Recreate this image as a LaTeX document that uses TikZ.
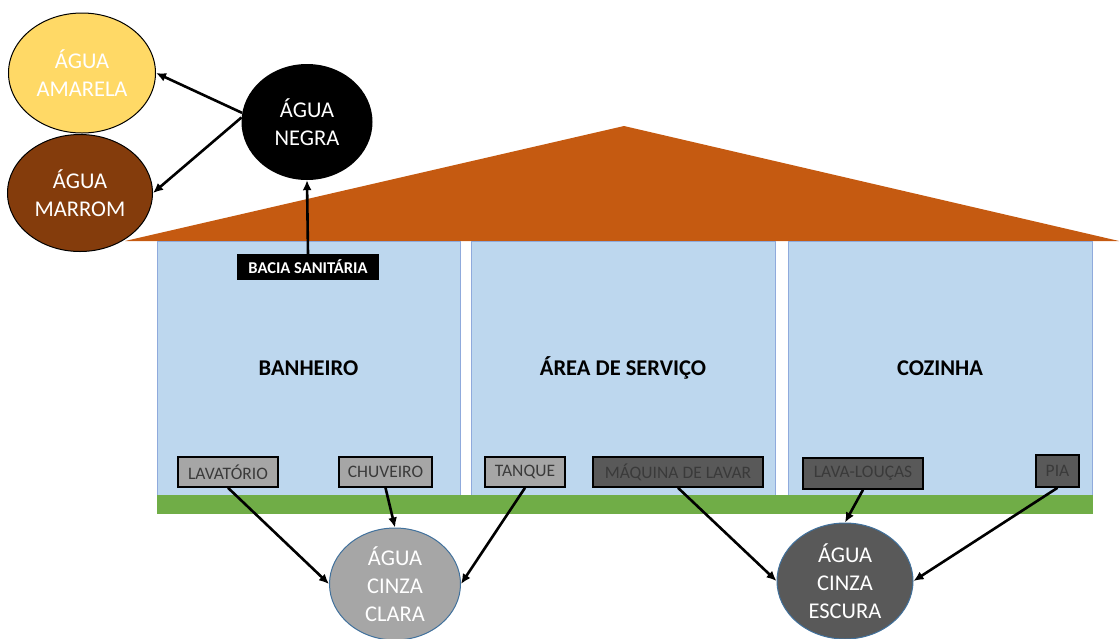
\documentclass[tikz,border=0pt]{standalone}
\usepackage{fontspec}
\setmainfont{Carlito}
\usepackage{tikz}
\usetikzlibrary{arrows.meta, positioning, shapes.geometric}
\definecolor{roofOrange}{HTML}{C55A11}
\definecolor{roomBlue}{HTML}{BDD7EE}
\definecolor{roomLine}{HTML}{8FAADC}
\definecolor{groundGreen}{HTML}{70AD47}
\definecolor{aguaAmarela}{HTML}{FFD966}
\definecolor{aguaMarrom}{HTML}{843C0C}
\definecolor{cinzaClara}{HTML}{A6A6A6}
\definecolor{cinzaEscura}{HTML}{595959}
\definecolor{cinzaLine}{HTML}{41719C}
\definecolor{boxText}{HTML}{3A3A3A}

\begin{document}
\begin{tikzpicture}[x=1pt, y=-1pt,
    room/.style={fill=roomBlue, draw=roomLine, line width=1pt, minimum width=303pt, minimum height=254pt,
      inner sep=0pt, font=\fontsize{22.5}{27}\selectfont\bfseries},
    fixture/.style={draw=black, line width=1.6pt, minimum height=30pt, inner sep=0pt,
      text=boxText, font=\fontsize{17.5}{21}\selectfont},
    agua/.style={ellipse, inner sep=0pt, align=center, text=white, font=\fontsize{22.5}{28}\selectfont},
    flow/.style={-{Latex[length=10pt,width=9pt]}, line width=2.6pt}]
    \useasboundingbox (0,0) rectangle (1119,638);

    % casa
    \fill[roofOrange] (125,241) -- (624,126) -- (1119,241) -- cycle;
    \node[room] (banheiro) at (308.5,368) {BANHEIRO};
    \node[room, minimum width=304pt] (servico) at (623,368) {ÁREA DE SERVIÇO};
    \node[room, minimum width=304pt] (cozinha) at (940,368) {COZINHA};
    \fill[groundGreen] (157,495) rectangle (1093,514);

    % pontos de consumo
    \node[fill=black, text=white, minimum width=142pt, minimum height=26pt, inner sep=0pt,
      font=\fontsize{16.5}{19}\selectfont\bfseries] (bacia) at (308,267) {BACIA SANITÁRIA};
    \node[fixture, fill=cinzaClara, minimum width=100pt] (lavatorio) at (228,472) {LAVATÓRIO};
    \node[fixture, fill=cinzaClara, minimum width=93pt] (chuveiro) at (385.5,472) {CHUVEIRO};
    \node[fixture, fill=cinzaClara, minimum width=80pt] (tanque) at (525,472) {TANQUE};
    \node[fixture, fill=cinzaEscura, minimum width=170pt] (maquina) at (678,472) {MÁQUINA DE LAVAR};
    \node[fixture, fill=cinzaEscura, minimum width=120pt, minimum height=31pt] (lavaloucas) at (863,473.5) {LAVA-LOUÇAS};
    \node[fixture, fill=cinzaEscura, minimum width=43pt, minimum height=32pt] (pia) at (1057.5,471) {PIA};

    % tipos de agua
    \node[agua, fill=black, minimum width=131pt, minimum height=116pt] (negra) at (307,122) {ÁGUA\\NEGRA};
    \node[agua, fill=aguaAmarela, draw=black, line width=1pt, minimum width=147pt, minimum height=120pt]
      (amarela) at (82,73) {ÁGUA\\AMARELA};
    \node[agua, fill=aguaMarrom, draw=black, line width=1pt, minimum width=145pt, minimum height=117pt]
      (marrom) at (80,193) {ÁGUA\\MARROM};
    \node[agua, fill=cinzaClara, draw=cinzaLine, line width=1pt, minimum width=131pt, minimum height=112pt]
      (clara) at (395,584) {ÁGUA\\CINZA\\CLARA};
    \node[agua, fill=cinzaEscura, draw=cinzaLine, line width=1pt, minimum width=136pt, minimum height=116pt]
      (escura) at (845,581) {ÁGUA\\CINZA\\ESCURA};

    % fluxos
    \draw[flow] (negra.172) -- (amarela.east);
    \draw[flow] (negra.176) -- (marrom.east);
    \draw[flow] (bacia.north) -- (negra.south);
    \draw[flow] (lavatorio.south) -- (clara.west);
    \draw[flow] (chuveiro.south) -- (clara.north);
    \draw[flow] (tanque.south) -- (clara.east);
    \draw[flow] (maquina.south) -- (escura.west);
    \draw[flow] (lavaloucas.south) -- (escura.north);
    \draw[flow] (pia.south) -- (escura.east);
  \end{tikzpicture}
\end{document}
